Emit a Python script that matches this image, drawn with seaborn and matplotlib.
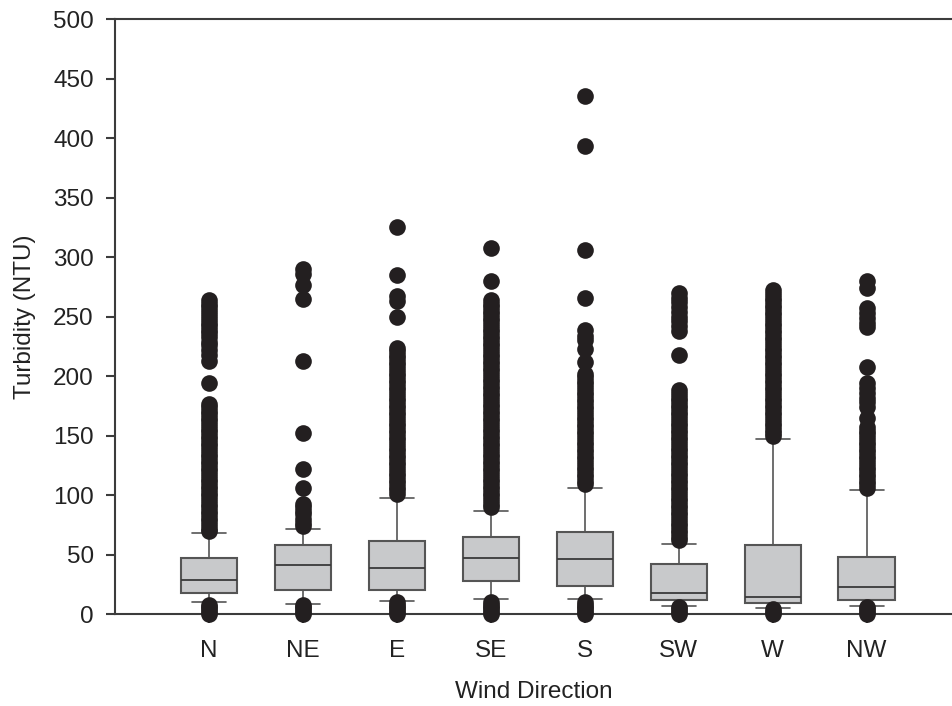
import numpy as np
import pandas as pd
import matplotlib
matplotlib.use("Agg")
import matplotlib.pyplot as plt
import seaborn as sns

directions = ["N", "NE", "E", "SE", "S", "SW", "W", "NW"]
q1 = [17.6, 20.0, 20.5, 28.0, 23.5, 11.8, 9.5, 11.8]
median = [28.8, 41.0, 38.6, 47.0, 46.0, 17.6, 14.6, 22.7]
q3 = [47.0, 58.0, 61.5, 64.8, 69.0, 42.0, 58.0, 48.0]
whisker_low = [10.0, 9.0, 11.0, 13.0, 12.6, 6.7, 5.0, 6.7]
whisker_high = [68.0, 72.0, 97.5, 87.0, 106.0, 59.0, 147.0, 104.0]

fliers_N = [264, 261, 258, 255, 251, 248, 245, 242, 239, 236, 233, 229, 226, 222, 218, 213,
            194, 177, 174, 171, 168, 165, 162, 159, 156, 153, 150, 147, 144, 141, 138, 135,
            132, 129, 126, 123, 120, 117, 114, 111, 108, 105, 102, 99, 96, 93, 90, 87, 84,
            81, 78, 75, 72, 70, 0, 2, 4, 6, 8]
fliers_NE = [290, 286, 277, 265, 213, 152, 122, 106, 93, 90, 87, 84, 80, 77, 74,
             0, 2, 4, 6, 8]
fliers_E = [325, 285, 267, 263, 250, 224, 221, 218, 215, 212, 209, 206, 203, 200, 197, 194,
            191, 188, 185, 182, 179, 176, 173, 170, 167, 164, 161, 158, 155, 152, 149, 146,
            143, 140, 137, 134, 131, 128, 125, 122, 119, 116, 113, 110, 107, 104, 101,
            0, 2, 4, 6, 8, 10]
fliers_SE = [308, 280, 264, 261, 258, 255, 252, 249, 246, 243, 240, 237, 234, 231, 228, 225,
             222, 219, 216, 213, 210, 207, 204, 201, 198, 195, 192, 189, 186, 183, 180, 177,
             174, 171, 168, 165, 162, 159, 156, 153, 150, 147, 144, 141, 138, 135, 132, 129,
             126, 123, 120, 117, 114, 111, 108, 105, 102, 99, 96, 93, 90,
             0, 2, 4, 6, 8, 10]
fliers_S = [435, 393, 306, 266, 239, 234, 230, 223, 212, 202, 199, 196, 193, 190, 187, 184,
            181, 178, 175, 172, 169, 166, 163, 160, 157, 154, 151, 148, 145, 142, 139, 136,
            133, 130, 127, 124, 121, 118, 115, 112, 109,
            0, 2, 4, 6, 8, 10]
fliers_SW = [270, 266, 262, 258, 254, 250, 246, 242, 238, 218, 188, 185, 182, 179, 176, 173,
             170, 167, 164, 161, 158, 155, 152, 149, 146, 143, 140, 137, 134, 131, 128, 125,
             122, 119, 116, 113, 110, 107, 104, 101, 98, 95, 92, 89, 86, 83, 80, 77, 74, 71,
             68, 65, 62, 0, 2, 4, 6]
fliers_W = [272, 269, 266, 263, 260, 257, 254, 251, 248, 245, 242, 239, 236, 233, 230, 227,
            224, 221, 218, 215, 212, 209, 206, 203, 200, 197, 194, 191, 188, 185, 182, 179,
            176, 173, 170, 167, 164, 161, 158, 155, 152, 150, 0, 2, 4]
fliers_NW = [280, 274, 257, 253, 249, 245, 241, 208, 194, 190, 186, 182, 178, 174, 165, 157,
             154, 151, 148, 145, 142, 139, 136, 133, 130, 127, 124, 121, 118, 115, 112, 109,
             106, 0, 2, 4, 6]
fliers = [fliers_N, fliers_NE, fliers_E, fliers_SE, fliers_S, fliers_SW, fliers_W, fliers_NW]

y_ticks = [0, 50, 100, 150, 200, 250, 300, 350, 400, 450, 500]

sns.set_style("ticks")
plt.rcParams["font.family"] = ["Liberation Sans", "DejaVu Sans"]

fig = plt.figure(figsize=(9.53, 7.06), dpi=100)
ax = fig.add_axes([0.121, 0.130, 0.879, 0.843])

stats = []
for i, d in enumerate(directions):
    stats.append(dict(label=d, q1=q1[i], med=median[i], q3=q3[i],
                      whislo=whisker_low[i], whishi=whisker_high[i], fliers=[]))

ax.bxp(stats, positions=range(len(directions)), widths=0.6, capwidths=0.36,
       showfliers=False, patch_artist=True,
       boxprops=dict(facecolor="#c8c9cb", edgecolor="#555555", linewidth=1.5),
       medianprops=dict(color="#3a3a3a", linewidth=1.3),
       whiskerprops=dict(color="#555555", linewidth=1.2),
       capprops=dict(color="#555555", linewidth=1.2))

df = pd.DataFrame({
    "Wind Direction": [d for d, f in zip(directions, fliers) for _ in f],
    "Turbidity": [v for f in fliers for v in f],
})
sns.stripplot(data=df, x="Wind Direction", y="Turbidity", order=directions,
              jitter=False, size=12, color="#231f20", linewidth=0, ax=ax, zorder=5)

ax.set_xlim(-1.0, 7.92)
ax.set_ylim(0, 500)
ax.set_yticks(y_ticks)
ax.set_xticks(range(len(directions)))
ax.set_xticklabels(directions)
for c in ax.collections:
    c.set_clip_on(False)

for s in ["left", "bottom", "top"]:
    ax.spines[s].set_linewidth(1.5)
    ax.spines[s].set_color("#3c3c3c")
ax.spines["right"].set_visible(False)
ax.tick_params(axis="both", direction="out", length=6.5, width=1.5, color="#3c3c3c",
               labelsize=17.5, labelcolor="#222222")
ax.tick_params(axis="y", pad=9)
ax.tick_params(axis="x", pad=12)
ax.set_xlabel("Wind Direction", fontsize=17.5, color="#222222", labelpad=14)
ax.set_ylabel("Turbidity (NTU)", fontsize=17.5, color="#222222", labelpad=12)

fig.savefig("out.png", dpi=100)
